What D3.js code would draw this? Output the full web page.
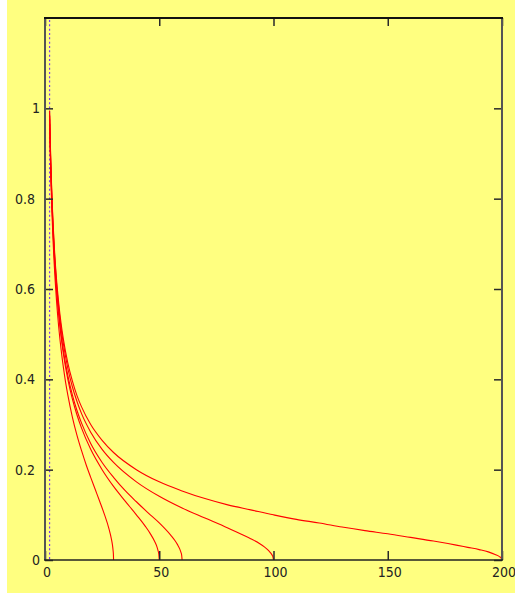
<!DOCTYPE html>
<html><head><meta charset="utf-8">
<script src="https://cdn.jsdelivr.net/npm/d3@7"></script>
<style>html,body{margin:0;padding:0;background:#fff;} svg{display:block}</style>
</head><body><svg id="c" width="515" height="597"></svg>
<script>
// ---- data ----
const xTicks = [0, 50, 100, 150, 200];
const xTickLabels = ["0", "50", "100", "150", "200"];
const yTicks = [0, 0.2, 0.4, 0.6, 0.8, 1];
const yTickLabels = ["0", "0.2", "0.4", "0.6", "0.8", "1"];
const markerX = 2;

const x30 = [2,2.5,3,3.5,4,5,6,7,8,9,10,12,14,16,18,20,22,24,26,28,29,29.5,29.8,29.95,30];
const y30 = [0.966,0.856,0.775,0.710,0.658,0.577,0.516,0.468,0.428,0.394,0.365,0.316,0.276,0.242,0.211,0.183,0.156,0.129,0.101,0.069,0.048,0.034,0.021,0.011,0];

const x50 = [2,2.5,3,3.5,4,5,6,7,8,10,12,14,16,20,25,30,35,40,44,46,48,49,49.5,49.8,50];
const y50 = [0.980,0.872,0.792,0.729,0.678,0.600,0.542,0.496,0.458,0.400,0.356,0.321,0.292,0.245,0.200,0.163,0.131,0.100,0.074,0.059,0.041,0.029,0.020,0.013,0];

const x60 = [2,2.5,3,3.5,4,5,6,7,8,10,12,14,16,20,25,30,35,40,45,50,55,57,58,59,59.5,59.8,60];
const y60 = [0.983,0.876,0.796,0.734,0.683,0.606,0.548,0.502,0.465,0.408,0.365,0.331,0.303,0.258,0.216,0.183,0.154,0.129,0.105,0.082,0.055,0.042,0.034,0.024,0.017,0.011,0];

const x100 = [2,2.5,3,3.5,4,5,6,7,8,10,12,14,16,20,25,30,40,50,60,70,80,85,90,94,96,98,99,99.5,99.8,100];
const y100 = [0.990,0.883,0.804,0.743,0.693,0.616,0.560,0.515,0.480,0.424,0.383,0.351,0.324,0.283,0.245,0.216,0.173,0.141,0.115,0.093,0.071,0.059,0.047,0.036,0.029,0.020,0.014,0.010,0.006,0];

const x200 = [2,2.5,3,3.5,4,5,6,7,8,10,12,14,16,20,25,30,40,50,60,70,80,90,100,110,120,130,140,150,160,170,180,185,190,194,197,199,199.6,200];
const y200 = [0.995,0.889,0.810,0.749,0.700,0.624,0.569,0.525,0.490,0.436,0.396,0.364,0.339,0.300,0.265,0.238,0.200,0.173,0.153,0.136,0.122,0.111,0.100,0.090,0.082,0.073,0.065,0.058,0.050,0.042,0.033,0.028,0.023,0.018,0.012,0.007,0.0045,0];

const curvesX = [x30, x50, x60, x100, x200];
const curvesY = [y30, y50, y60, y100, y200];

// ---- layout ----
const svg = d3.select("#c");
const L = 45, R = 502, T = 18, B = 560;
const x = d3.scaleLinear().domain([0, 200]).range([L, R]);
const y = d3.scaleLinear().domain([0, 1.2]).range([B, T]);

svg.append("rect").attr("x", 7).attr("y", 0).attr("width", 508).attr("height", 593).attr("fill", "#FFFF80");

const font = "'Liberation Sans Narrow','Arial Narrow','DejaVu Sans Condensed',sans-serif";

// marker line
svg.append("line")
  .attr("x1", x(markerX)).attr("x2", x(markerX))
  .attr("y1", T + 2).attr("y2", B)
  .attr("stroke", "#7a3cf0").attr("stroke-width", 1.2)
  .attr("stroke-dasharray", "2,2.33");

// curves
const line = d3.line().x(d => x(d[0])).y(d => y(d[1])).curve(d3.curveMonotoneX);
curvesX.forEach((xs, i) => {
  const pts = xs.map((v, j) => [v, curvesY[i][j]]);
  svg.append("path").attr("d", line(pts))
    .attr("fill", "none").attr("stroke", "#ff0000").attr("stroke-width", 1.1);
});

// axes
const gL = svg.append("g").attr("transform", `translate(${L},0)`)
  .call(d3.axisLeft(y).tickValues(yTicks).tickFormat((d, i) => yTickLabels[i]).tickSizeInner(-8).tickSizeOuter(0).tickPadding(5));
const gR = svg.append("g").attr("transform", `translate(${R},0)`)
  .call(d3.axisRight(y).tickValues(yTicks).tickFormat("").tickSizeInner(-8).tickSizeOuter(0));
const gB = svg.append("g").attr("transform", `translate(0,${B})`)
  .call(d3.axisBottom(x).tickValues(xTicks).tickFormat((d, i) => xTickLabels[i]).tickSizeInner(-9).tickSizeOuter(0).tickPadding(7));
const gT = svg.append("g").attr("transform", `translate(0,${T})`)
  .call(d3.axisTop(x).tickValues(xTicks).tickFormat("").tickSizeInner(-8).tickSizeOuter(0));

[gL, gR, gB, gT].forEach(g => {
  g.select(".domain").remove();
  g.selectAll(".tick line").attr("stroke", "#2a2a2a").attr("stroke-width", 1.5);
  g.selectAll(".tick text").attr("fill", "#222").style("font-family", font).style("font-size", "14px");
});
gL.selectAll(".tick text").attr("x", function(d, i) { return yTickLabels[i].includes(".") ? -10 : -5; });
gB.selectAll(".tick text").attr("dx", "1.5");

// frame
svg.append("line").attr("x1", L).attr("x2", L).attr("y1", T).attr("y2", B).attr("stroke", "#555").attr("stroke-width", 2);
svg.append("line").attr("x1", R).attr("x2", R).attr("y1", T).attr("y2", B).attr("stroke", "#555").attr("stroke-width", 2);
svg.append("line").attr("x1", L - 1).attr("x2", R + 1).attr("y1", T).attr("y2", T).attr("stroke", "#111").attr("stroke-width", 1.8);
svg.append("line").attr("x1", L - 1).attr("x2", R + 1).attr("y1", B).attr("y2", B).attr("stroke", "#222").attr("stroke-width", 1.6);
</script>
</body></html>
